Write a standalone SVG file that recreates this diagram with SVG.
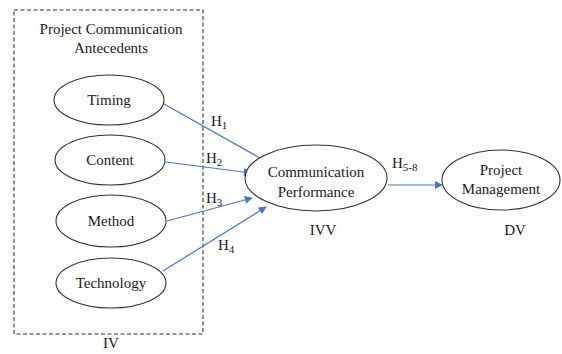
<svg xmlns="http://www.w3.org/2000/svg" width="562" height="354" viewBox="0 0 562 354" font-family="'Liberation Serif', 'Times New Roman', 'DejaVu Serif', serif">
<defs>
<marker id="ah" viewBox="0 0 10 10" refX="9" refY="5" markerWidth="8" markerHeight="8" markerUnits="userSpaceOnUse" orient="auto">
<path d="M0,0 L10,5 L0,10 z" fill="#4a76c0"/>
</marker>
<style>
text{font-family:'Liberation Serif','Times New Roman',serif;font-size:15px;fill:#1a1a1a}
.c{text-anchor:middle}
.n{fill:#fff;stroke:#333;stroke-width:1.1}
.e{stroke:#4a76c0;stroke-width:1.2;fill:none;marker-end:url(#ah)}
.s{font-size:11px}
</style>
</defs>
<rect width="562" height="354" fill="#fff"/>
<g id="iv-box">
<rect x="14" y="10" width="189" height="324" fill="none" stroke="#333" stroke-width="1.1" stroke-dasharray="4,2.5"/>
<text class="c" x="111" y="34">Project Communication</text>
<text class="c" x="111" y="53">Antecedents</text>
<text class="c" x="111" y="348">IV</text>
</g>
<g id="connectors">
<line class="e" x1="164" y1="104" x2="267" y2="162"/>
<line class="e" x1="166" y1="162" x2="251" y2="173"/>
<line class="e" x1="167" y1="221" x2="252" y2="198"/>
<line class="e" x1="163" y1="271" x2="266" y2="207"/>
<line class="e" x1="388" y1="185" x2="442" y2="185"/>
<text x="211" y="126">H<tspan class="s" dy="3">1</tspan></text>
<text x="206" y="163">H<tspan class="s" dy="3">2</tspan></text>
<text x="206" y="203">H<tspan class="s" dy="3">3</tspan></text>
<text x="218" y="250">H<tspan class="s" dy="3">4</tspan></text>
<text x="392" y="168">H<tspan class="s" dy="3">5-8</tspan></text>
</g>
<g id="timing">
<ellipse class="n" cx="109" cy="100" rx="55" ry="25"/>
<text class="c" x="109" y="105">Timing</text>
</g>
<g id="content">
<ellipse class="n" cx="110" cy="160" rx="55" ry="25"/>
<text class="c" x="110" y="165">Content</text>
</g>
<g id="method">
<ellipse class="n" cx="111" cy="221" rx="55" ry="26"/>
<text class="c" x="111" y="226">Method</text>
</g>
<g id="technology">
<ellipse class="n" cx="111" cy="283" rx="55" ry="25"/>
<text class="c" x="111" y="288">Technology</text>
</g>
<g id="communication-performance">
<ellipse class="n" cx="316" cy="178" rx="71" ry="33"/>
<text class="c" x="316" y="177">Communication</text>
<text class="c" x="316" y="197">Performance</text>
<text class="c" x="323" y="235">IVV</text>
</g>
<g id="project-management">
<ellipse class="n" cx="501" cy="180" rx="59" ry="30"/>
<text class="c" x="501" y="175">Project</text>
<text class="c" x="501" y="194">Management</text>
<text class="c" x="515" y="235">DV</text>
</g>
</svg>
